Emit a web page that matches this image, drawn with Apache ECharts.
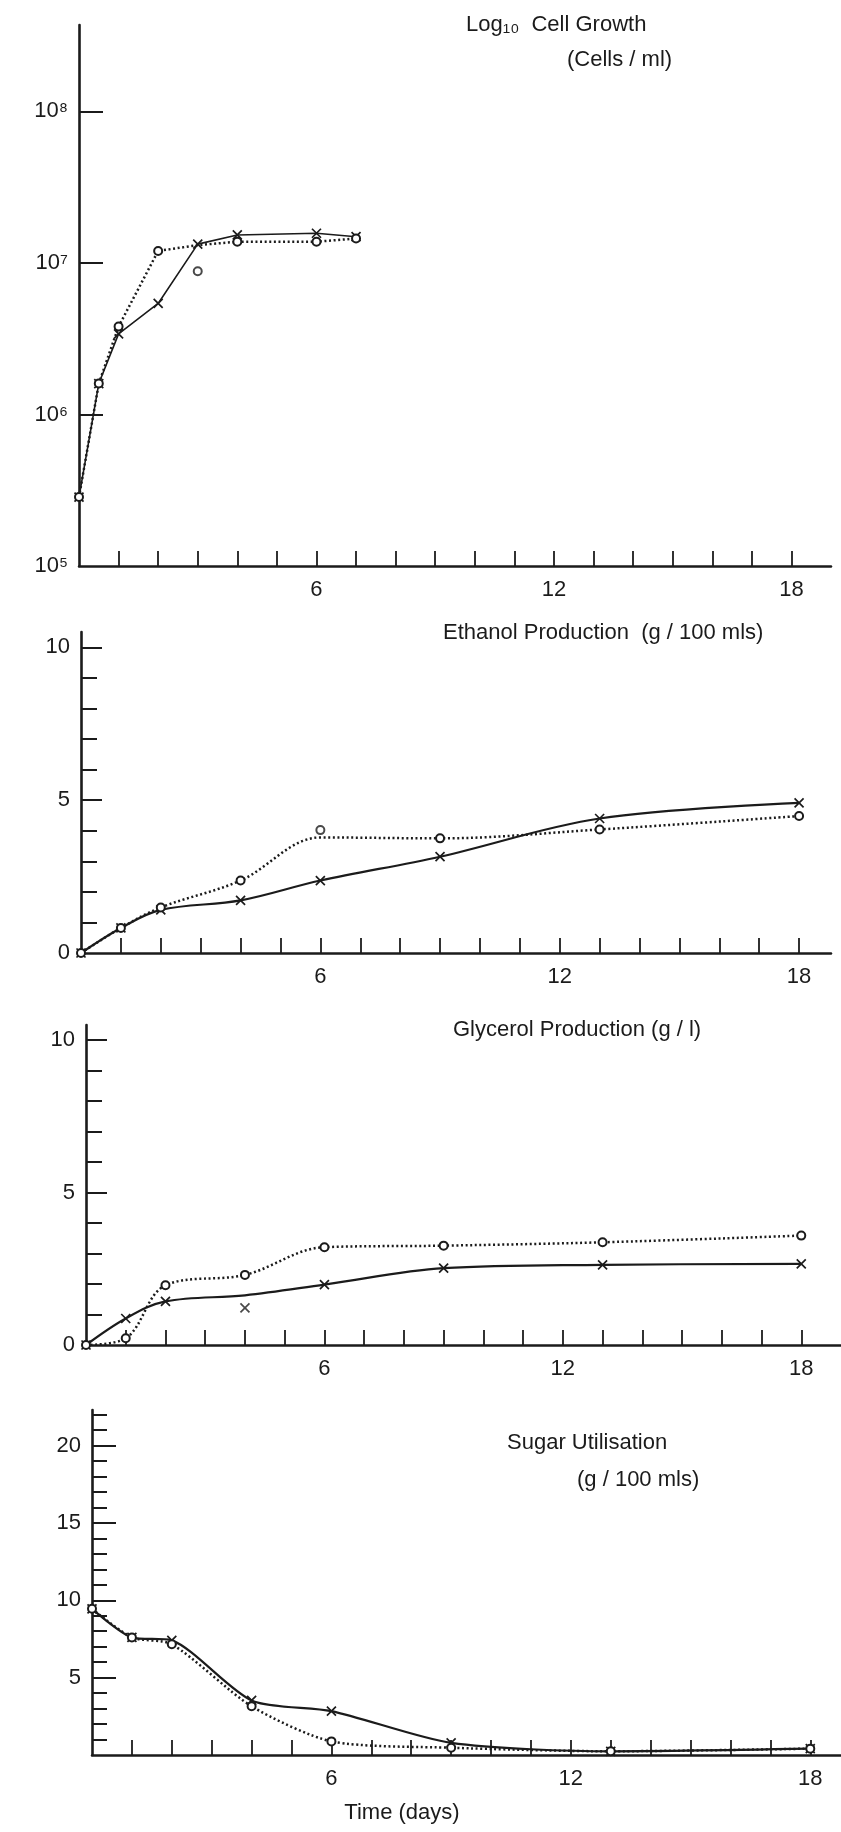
<!DOCTYPE html>
<html>
<head>
<meta charset="utf-8">
<title>Fermentation time course</title>
<script src="https://cdn.jsdelivr.net/npm/echarts@6/dist/echarts.min.js"></script>
<style>
  html, body { margin: 0; padding: 0; background: #fff; }
  #chart { width: 841px; height: 1832px; }
</style>
</head>
<body>
<div id="chart"></div>
<script>
// sampling times (days)
const cellDays = [0, 0.5, 1, 2, 3, 4, 6, 7];
const days = [0, 1, 2, 4, 6, 9, 13, 18];

// cell growth, cells / ml
const cellCross = [2.85e5, 1.6e6, 3.4e6, 5.4e6, 1.33e7, 1.53e7, 1.57e7, 1.49e7];
const cellCircle = [2.85e5, 1.6e6, 3.8e6, 1.2e7, 1.31e7, 1.38e7, 1.38e7, 1.45e7];
const cellCircleStray = [[3, 8.8e6]];

// ethanol, g / 100 mls
const ethanolCross = [0, 0.82, 1.41, 1.72, 2.37, 3.15, 4.40, 4.91];
const ethanolCircle = [0, 0.82, 1.49, 2.37, 3.78, 3.75, 4.04, 4.48];
const ethanolCircleStray = [[6, 4.02]];

// glycerol, g / l
const glycerolCross = [0, 0.87, 1.43, 1.63, 1.98, 2.52, 2.63, 2.66];
const glycerolCrossStray = [[4, 1.22]];
const glycerolCircle = [0, 0.22, 1.96, 2.30, 3.21, 3.26, 3.37, 3.59];

// sugar, g / 100 mls
const sugarCross = [9.45, 7.6, 7.41, 3.53, 2.84, 0.78, 0.24, 0.41];
const sugarCircle = [9.45, 7.6, 7.16, 3.15, 0.88, 0.47, 0.24, 0.41];

// axis ticks and labels
const dayTicks = [1, 2, 3, 4, 5, 6, 7, 8, 9, 10, 11, 12, 13, 14, 15, 16, 17, 18];
const dayLabels = [6, 12, 18];
const cellTicks = [6, 7, 8];
const cellLabels = [5, 6, 7, 8];
const tenTicks = [1, 2, 3, 4, 5, 6, 7, 8, 9, 10];
const tenLabels = [0, 5, 10];
const sugarTicks = [1, 2, 3, 4, 5, 6, 7, 8, 9, 10, 11, 12, 13, 14, 15, 16, 17, 18, 19, 20, 21, 22];
const sugarLabels = [5, 10, 15, 20];

const ink = '#1b1b1b';
const font = '"Liberation Sans", "DejaVu Sans", sans-serif';
const cross = 'path://M0,0L10,10M10,0L0,10';
const sup = { 5: '⁵', 6: '⁶', 7: '⁷', 8: '⁸' };

function pairs(xs, ys, f) {
  return xs.map((x, i) => [x, f ? f(ys[i]) : ys[i]]);
}

function markStyle(kind) {
  // emptyCircle takes its stroke from color and fills itself white
  return kind === 'circle'
    ? { color: ink, borderColor: ink, borderWidth: 1.7, borderType: 'solid' }
    : { color: 'none', borderColor: ink, borderWidth: 1.7, borderType: 'solid' };
}

function curve(panel, xs, ys, kind, strays, smooth, f) {
  const dotted = kind === 'circle';
  const skip = strays.map(p => p[0]);
  return {
    type: 'line',
    xAxisIndex: panel,
    yAxisIndex: panel,
    data: pairs(xs, ys, f),
    smooth: smooth,
    symbol: v => skip.indexOf(v[0]) >= 0 ? 'none' : (dotted ? 'emptyCircle' : cross),
    symbolSize: dotted ? 8 : 9,
    lineStyle: dotted
      ? { color: ink, width: 2.5, type: [2, 2.6] }
      : { color: ink, width: panel === 0 ? 1.6 : 2.2 },
    itemStyle: markStyle(kind),
    z: dotted ? 3 : 2
  };
}

function stray(panel, points, kind, f) {
  return {
    type: 'scatter',
    xAxisIndex: panel,
    yAxisIndex: panel,
    data: points.map(p => [p[0], f ? f(p[1]) : p[1]]),
    symbol: kind === 'circle' ? 'emptyCircle' : cross,
    symbolSize: kind === 'circle' ? 8 : 9,
    itemStyle: markStyle(kind),
    z: 4
  };
}

function xAxisFor(panel, max) {
  return {
    gridIndex: panel, type: 'value', min: 0, max: max,
    axisLine: { lineStyle: { color: ink, width: 2.5 } },
    axisTick: { inside: true, length: 15, customValues: dayTicks, lineStyle: { color: ink, width: 1.8 } },
    axisLabel: { customValues: dayLabels, margin: 13, fontSize: 22, color: ink, fontFamily: font },
    splitLine: { show: false }
  };
}

function yAxisFor(panel, min, max, ticks, labels, tickLen, fmt) {
  return {
    gridIndex: panel, type: 'value', position: 'left', min: min, max: max,
    axisLine: { lineStyle: { color: ink, width: 2.6 } },
    axisTick: { inside: true, length: tickLen, customValues: ticks, lineStyle: { color: ink, width: 2 } },
    axisLabel: { customValues: labels, margin: 11, fontSize: 22, color: ink, fontFamily: font, formatter: fmt },
    splitLine: { show: false }
  };
}

// longer ticks at the labelled values, drawn on a twin axis
function majorTicks(panel, max, ticks, tickLen) {
  return {
    gridIndex: panel, type: 'value', position: 'left', min: 0, max: max,
    axisLine: { show: false },
    axisTick: { inside: true, length: tickLen, customValues: ticks, lineStyle: { color: ink, width: 2 } },
    axisLabel: { show: false },
    splitLine: { show: false }
  };
}

function label(text, x, y, align) {
  return {
    type: 'text', x: x, y: y,
    style: { text: text, font: '22px ' + font, fill: ink, textAlign: align || 'left', textVerticalAlign: 'middle' }
  };
}

const chart = echarts.init(document.getElementById('chart'), null, { renderer: 'canvas' });

chart.setOption({
  animation: false,
  backgroundColor: '#fff',
  grid: [
    { left: 79, right: 10, top: 25, height: 541 },
    { left: 81, right: 10, top: 632, height: 321 },
    { left: 86, right: 0, top: 1025, height: 320 },
    { left: 92, right: 0, top: 1410, height: 345 }
  ],
  xAxis: [
    xAxisFor(0, 19),
    xAxisFor(1, 18.8),
    xAxisFor(2, 19),
    xAxisFor(3, 18.77)
  ],
  yAxis: [
    yAxisFor(0, 5, 8.57, cellTicks, cellLabels, 24, v => '10' + sup[v]),
    yAxisFor(1, 0, 10.5, tenTicks, tenLabels, 16),
    yAxisFor(2, 0, 10.5, tenTicks, tenLabels, 16),
    yAxisFor(3, 0, 22.3, sugarTicks, sugarLabels, 15),
    majorTicks(1, 10.5, [5, 10], 21),
    majorTicks(2, 10.5, [5, 10], 21),
    majorTicks(3, 22.3, sugarLabels, 24)
  ],
  series: [
    curve(0, cellDays, cellCross, 'cross', [], false, Math.log10),
    curve(0, cellDays, cellCircle, 'circle', cellCircleStray, false, Math.log10),
    stray(0, cellCircleStray, 'circle', Math.log10),

    curve(1, days, ethanolCross, 'cross', [], 0.35),
    curve(1, days, ethanolCircle, 'circle', ethanolCircleStray, 0.35),
    stray(1, ethanolCircleStray, 'circle'),

    curve(2, days, glycerolCross, 'cross', glycerolCrossStray, 0.35),
    stray(2, glycerolCrossStray, 'cross'),
    curve(2, days, glycerolCircle, 'circle', [], 0.35),

    curve(3, days, sugarCross, 'cross', [], 0.25),
    curve(3, days, sugarCircle, 'circle', [], 0.25)
  ],
  graphic: [
    label('Log₁₀  Cell Growth', 466, 25),
    label('(Cells / ml)', 567, 60),
    label('Ethanol Production  (g / 100 mls)', 443, 633),
    label('Glycerol Production (g / l)', 453, 1030),
    label('Sugar Utilisation', 507, 1443),
    label('(g / 100 mls)', 577, 1480),
    label('Time (days)', 402, 1813, 'center')
  ]
});
</script>
</body>
</html>
